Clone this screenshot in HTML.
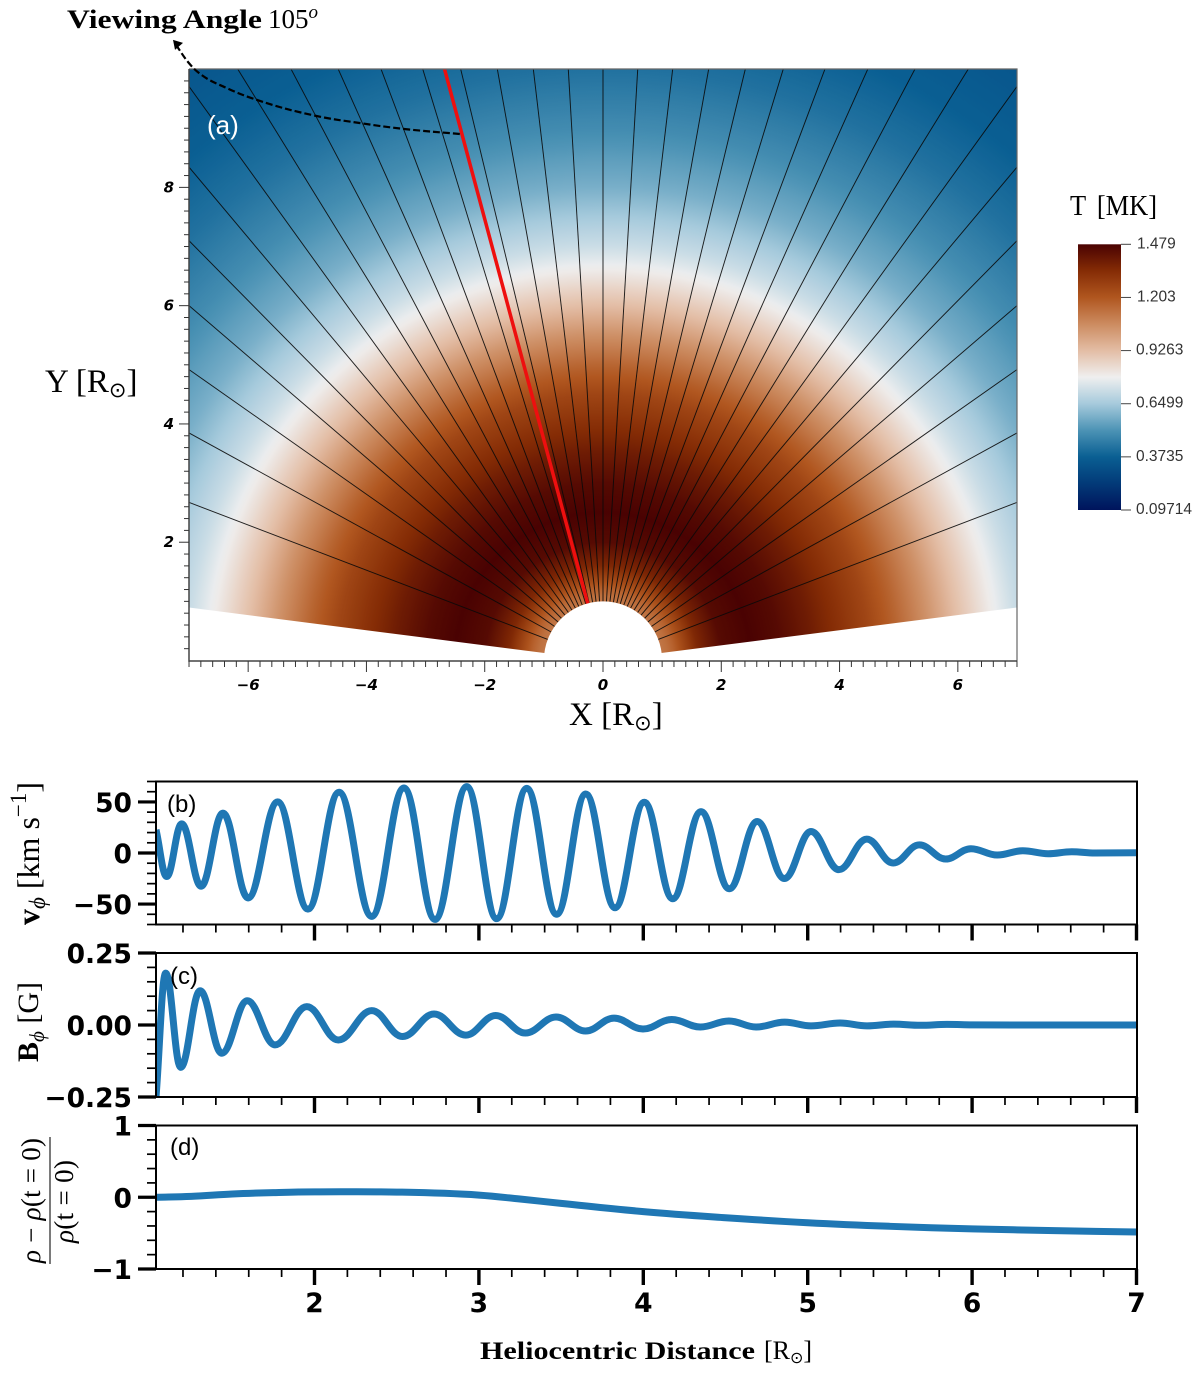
<!DOCTYPE html>
<html lang="en">
<head>
<meta charset="utf-8">
<title>Temperature map and wave profiles</title>
<style>
html,body{margin:0;padding:0;background:#fff;}
svg{display:block;}
.serif{font-family:"Liberation Serif","DejaVu Serif",serif;}
.sans{font-family:"Liberation Sans",sans-serif;}
.dj{font-family:"DejaVu Sans",sans-serif;}
</style>
</head>
<body>
<svg id="fig" xmlns="http://www.w3.org/2000/svg" width="1200" height="1387" viewBox="0 0 1200 1387">
  <defs>
    <radialGradient id="tempGrad" gradientUnits="userSpaceOnUse"></radialGradient>
    <linearGradient id="cbarGrad" x1="0" y1="1" x2="0" y2="0"></linearGradient>
    <clipPath id="mapClip"><rect x="189" y="69" width="828" height="592"/></clipPath>
    <clipPath id="clipB"><rect x="156" y="781.5" width="981" height="143"/></clipPath>
    <clipPath id="clipC"><rect x="156" y="953" width="981" height="144"/></clipPath>
    <clipPath id="clipD"><rect x="156" y="1125" width="981" height="144"/></clipPath>
  </defs>

  <g id="mapLayer" clip-path="url(#mapClip)"></g>
  <g id="mapFrame"></g>
  <g id="annot"></g>

  <text class="serif" x="67" y="28" font-size="26" font-weight="bold" textLength="195" lengthAdjust="spacingAndGlyphs">Viewing Angle</text>
  <text class="serif" x="268" y="28" font-size="27">105<tspan font-style="italic" font-size="19" dy="-10">o</tspan></text>
  <text class="sans" x="207" y="134" font-size="26" fill="#fff">(a)</text>
  <text class="serif" x="569" y="725" font-size="33">X [R<tspan class="dj" font-size="21" dy="5">⊙</tspan><tspan dy="-5">]</tspan></text>
  <text class="serif" x="45" y="392" font-size="33">Y [R<tspan class="dj" font-size="21" dy="5">⊙</tspan><tspan dy="-5">]</tspan></text>

  <text class="serif" x="1070" y="215" font-size="29" word-spacing="5" textLength="87" lengthAdjust="spacingAndGlyphs">T [MK]</text>
  <g id="cbar"></g>

  <g id="panelB"></g>
  <g id="panelC"></g>
  <g id="panelD"></g>

  <text class="sans" x="167" y="812" font-size="24">(b)</text>
  <text class="sans" x="170" y="984" font-size="24">(c)</text>
  <text class="sans" x="170" y="1155" font-size="24">(d)</text>

  <text class="serif" transform="translate(39,925) rotate(-90)" font-size="32"><tspan font-weight="bold">v</tspan><tspan font-style="italic" font-size="23" dy="6">ϕ</tspan><tspan dy="-6"> [km s</tspan><tspan font-size="23" dy="-13">−1</tspan><tspan dy="13">]</tspan></text>
  <text class="serif" transform="translate(38,1062) rotate(-90)" font-size="30"><tspan font-weight="bold">B</tspan><tspan font-style="italic" font-size="21" dy="6">ϕ</tspan><tspan dy="-6"> [G]</tspan></text>
  <g class="serif">
    <text transform="translate(40,1263) rotate(-90)" font-size="27" textLength="125"><tspan font-style="italic">ρ</tspan> − <tspan font-style="italic">ρ</tspan>(t = 0)</text>
    <line x1="50" y1="1137" x2="50" y2="1264" stroke="#222" stroke-width="1.2"/>
    <text transform="translate(73,1243) rotate(-90)" font-size="27" textLength="83"><tspan font-style="italic">ρ</tspan>(t = 0)</text>
  </g>

  <text class="serif" x="480" y="1359" font-size="25" font-weight="bold" textLength="275" lengthAdjust="spacingAndGlyphs">Heliocentric Distance</text>
  <text class="serif" x="764" y="1359" font-size="26">[R<tspan class="dj" font-size="16" dy="4">⊙</tspan><tspan dy="-4">]</tspan></text>
</svg>

<script>
// ---- Temperature map data ----
var mapXTicks = [-6,-4,-2,0,2,4,6];
var mapYTicks = [2,4,6,8];
var radialR = [1,1.15,1.3,1.6,2,2.5,3,3.5,4,4.5,5,5.5,6,6.65,7,8,9,10,11,12.5];
var radialT = [0.74,0.76,0.81,0.91,0.98,1,0.98,0.94,0.89,0.84,0.77,0.69,0.6,0.5,0.45,0.35,0.285,0.235,0.2,0.17];
var fieldLineAngles = [0,3.36,6.72,10.13,13.53,16.95,20.57,24.12,27.81,31.7,35.8,40,44.6,49.4,54.9,61.2,69.1];
var viewingLineAngle = [15];
var wedgeSlope = [0.128];
var arrowX = [-7.22,-7.017,-6.814,-6.363,-5.856,-4.904,-4.058,-3.382,-2.389];
var arrowY = [10.41,10.12,9.92,9.68,9.48,9.22,9.08,8.99,8.90];

// ---- Colour bar data ----
var cmapPos = [0,0.1,0.2,0.3,0.4,0.5,0.6,0.7,0.8,0.9,1];
var cmapHex = ['#00145c','#023a78','#0a5f93','#4c93b5','#a6cadc','#efefef','#e3bda5','#cc8b60','#b0561f','#852c05','#4a0202'];
var cbarLabels = ['0.09714','0.3735','0.6499','0.9263','1.203','1.479'];
var cbarFractions = [0,0.2,0.4,0.6,0.8,1];

// ---- Line panels data ----
var distXMajor = [2,3,4,5,6,7];
var velocityX = [1.036,1.101,1.192,1.310,1.443,1.596,1.776,1.960,2.149,2.348,2.544,2.733,2.926,3.108,3.291,3.473,3.650,3.828,4.006,4.179,4.351,4.523,4.693,4.858,5.020,5.190,5.359,5.520,5.679,5.839,5.993,6.153,6.308,6.462,6.606,6.747,7.0];
var velocityY = [22.7,-23,28.5,-32.5,39,-44,50,-55,59.5,-62,63.6,-65,65,-64.3,63.3,-60,57.8,-53.6,49.7,-44.8,40.5,-35,30.8,-25,21,-16.3,13.6,-9.8,8,-5.9,4.2,-2,2.2,-0.7,1.2,0,0.2];
var fieldX = [1.036,1.095,1.186,1.304,1.436,1.591,1.760,1.953,2.145,2.348,2.536,2.727,2.920,3.102,3.283,3.469,3.649,3.822,3.998,4.173,4.347,4.521,4.686,4.860,5.020,5.197,5.361,5.523,5.686,5.847,6.0,6.5,7.0];
var fieldY = [-0.25,0.18,-0.147,0.119,-0.098,0.084,-0.069,0.064,-0.052,0.05,-0.04,0.038,-0.035,0.033,-0.028,0.028,-0.021,0.024,-0.014,0.019,-0.007,0.014,-0.007,0.01,-0.003,0.007,-0.003,0.003,-0.001,0.002,0.0005,0,0];
var densityX = [1.036,1.25,1.5,1.75,2,2.5,3,3.25,3.5,4,4.5,5,5.5,6,6.5,7];
var densityY = [0,0.012,0.045,0.065,0.075,0.072,0.03,-0.025,-0.085,-0.2,-0.285,-0.355,-0.405,-0.44,-0.465,-0.485];
var velTicks = [-50,0,50];
var velTickLabels = ['−50','0','50'];
var fieldTicks = [-0.25,0,0.25];
var fieldTickLabels = ['−0.25','0.00','0.25'];
var densTicks = [-1,0,1];
var densTickLabels = ['−1','0','1'];

// ---- Helpers ----
var NS = 'http://www.w3.org/2000/svg';
function mk(tag, attrs, parent){
  var el = document.createElementNS(NS, tag);
  for (var k in attrs) el.setAttribute(k, attrs[k]);
  parent.appendChild(el);
  return el;
}
function mapX(v){ return 603 + v * 59.14; }
function mapY(v){ return 660.5 - v * 59.14; }
function hexToRgb(h){ return [parseInt(h.substr(1,2),16),parseInt(h.substr(3,2),16),parseInt(h.substr(5,2),16)]; }
function cmap(t){
  t = Math.max(0, Math.min(1, t));
  for (var i = 0; i < cmapPos.length - 1; i++){
    if (t <= cmapPos[i+1]){
      var f = (t - cmapPos[i]) / (cmapPos[i+1] - cmapPos[i]);
      var a = hexToRgb(cmapHex[i]), b = hexToRgb(cmapHex[i+1]);
      return 'rgb(' + Math.round(a[0]+(b[0]-a[0])*f) + ',' + Math.round(a[1]+(b[1]-a[1])*f) + ',' + Math.round(a[2]+(b[2]-a[2])*f) + ')';
    }
  }
  return cmapHex[cmapHex.length-1];
}
function monoPath(px, py){
  var n = px.length, d = [], m = [], i;
  for (i = 0; i < n-1; i++) d.push((py[i+1]-py[i]) / (px[i+1]-px[i]));
  m[0] = d[0]; m[n-1] = d[n-2];
  for (i = 1; i < n-1; i++){
    if (d[i-1]*d[i] <= 0) m[i] = 0;
    else m[i] = (d[i-1]+d[i])/2;
  }
  var s = 'M' + px[0].toFixed(2) + ' ' + py[0].toFixed(2);
  for (i = 0; i < n-1; i++){
    var h = (px[i+1]-px[i]) * 0.39;
    s += 'C' + (px[i]+h).toFixed(2) + ' ' + (py[i]+m[i]*h).toFixed(2) + ' ' + (px[i+1]-h).toFixed(2) + ' ' + (py[i+1]-m[i+1]*h).toFixed(2) + ' ' + px[i+1].toFixed(2) + ' ' + py[i+1].toFixed(2);
  }
  return s;
}

// ---- Temperature map ----
(function(){
  var grad = document.getElementById('tempGrad');
  var Rmax = radialR[radialR.length-1];
  grad.setAttribute('cx', mapX(0));
  grad.setAttribute('cy', mapY(0));
  grad.setAttribute('r', Rmax * 59.14);
  function profile(r){
    for (var i = 0; i < radialR.length-1; i++){
      if (r <= radialR[i+1]){
        return radialT[i] + (radialT[i+1]-radialT[i]) * (r-radialR[i]) / (radialR[i+1]-radialR[i]);
      }
    }
    return radialT[radialT.length-1];
  }
  for (var r = 0; r <= Rmax + 0.001; r += 0.1){
    var st = mk('stop', {offset: (r/Rmax).toFixed(4), 'stop-color': cmap(profile(Math.max(r,1)))}, grad);
    
    
  }
  var layer = document.getElementById('mapLayer');
  var s = wedgeSlope[0];
  var pts = [[0,0],[-7,7*s],[-7,10.2],[7,10.2],[7,7*s]];
  var wedge = mk('polygon', {points: pts.map(function(p){return mapX(p[0])+','+mapY(p[1]);}).join(' '), fill: 'url(#tempGrad)'}, layer);
  
  

  function radial(angle){
    var a = angle * Math.PI / 180;
    return {x1: mapX(Math.sin(a)), y1: mapY(Math.cos(a)), x2: mapX(14*Math.sin(a)), y2: mapY(14*Math.cos(a))};
  }
  fieldLineAngles.forEach(function(ang){
    (ang === 0 ? [1] : [1,-1]).forEach(function(sign){
      var c = radial(sign*ang);
      var l = mk('line', {x1:c.x1, y1:c.y1, x2:c.x2, y2:c.y2, stroke:'#0a0a0a', 'stroke-width':0.95, 'stroke-opacity':0.9}, layer);
      
      
    });
  });
  var sun = mk('circle', {cx: mapX(0), cy: mapY(0), r: 59.14, fill: '#fff'}, layer);
  
  
  var c = radial(-viewingLineAngle[0]);
  var red = mk('line', {x1:c.x1, y1:c.y1, x2:c.x2, y2:c.y2, stroke:'#ee0f0f', 'stroke-width':3.5}, layer);
  
  

  // axes frame and ticks
  var frame = document.getElementById('mapFrame');
  var border = mk('path', {d:'M189 69H1017V661', fill:'none', stroke:'#666', 'stroke-width':1.2}, frame);
  
  
  var border2 = mk('path', {d:'M189 69V661H1017', fill:'none', stroke:'#444', 'stroke-width':1.5}, frame);
  
  
  var v, i, t;
  for (i = -35; i <= 35; i++){
    v = i * 0.2;
    var isMaj = i % 10 === 0;
    t = mk('line', {x1:mapX(v), x2:mapX(v), y1:661, y2:661 + (isMaj ? 11 : 6), stroke:'#333', 'stroke-width':1}, frame);
    
    
  }
  for (i = 1; i <= 49; i++){
    v = i * 0.2;
    var isMajY = i % 10 === 0;
    t = mk('line', {x1:189 - (isMajY ? 10 : 5), x2:189, y1:mapY(v), y2:mapY(v), stroke:'#333', 'stroke-width':1}, frame);
    
    
  }
  mapXTicks.forEach(function(val){
    var tx = mk('text', {x:mapX(val), y:690, 'text-anchor':'middle', 'font-size':15, 'font-weight':'bold', 'font-style':'italic', 'class':'dj'}, frame);
    
    
    tx.textContent = (val < 0 ? '−' : '') + Math.abs(val);
  });
  mapYTicks.forEach(function(val){
    var tx = mk('text', {x:174, y:mapY(val)+5, 'text-anchor':'end', 'font-size':15, 'font-weight':'bold', 'font-style':'italic', 'class':'dj'}, frame);
    
    
    tx.textContent = String(val);
  });

  // viewing-angle arrow
  var ann = document.getElementById('annot');
  var ax = arrowX.map(mapX), ay = arrowY.map(mapY);
  var curve = mk('path', {d: monoPath(ax, ay), fill:'none', stroke:'#000', 'stroke-width':2.2, 'stroke-dasharray':'7 3'}, ann);
  
  
  var tip = [ax[0]-3, ay[0]-5];
  var head = mk('polygon', {points: tip[0]+','+tip[1]+' '+(tip[0]+10)+','+(tip[1]+3)+' '+(tip[0]+2)+','+(tip[1]+10), fill:'#000'}, ann);
  
  
})();

// ---- Colour bar ----
(function(){
  var g = document.getElementById('cbarGrad');
  for (var i = 0; i < cmapPos.length; i++){
    var st = mk('stop', {offset: cmapPos[i], 'stop-color': cmapHex[i]}, g);
    
    
  }
  var bar = document.getElementById('cbar');
  var top = 244.3, bot = 510;
  var rect = mk('rect', {x:1078, y:top, width:43, height:bot-top, fill:'url(#cbarGrad)'}, bar);
  
  
  cbarFractions.forEach(function(f, idx){
    var y = bot - f*(bot-top);
    var t = mk('line', {x1:1121, x2:1131, y1:y, y2:y, stroke:'#444', 'stroke-width':1}, bar);
    
    
    var lab = cbarLabels[idx];
    var tx = mk('text', {x: lab.length === 5 ? 1137 : 1136, y: y+4, 'font-size':15.5, fill:'#333', 'class':'sans'}, bar);
    
    
    tx.textContent = lab;
  });
})();

// ---- Line panels ----
function distX(v){ return 314.5 + (v - 2) * 164.4; }
function drawPanel(id, clipId, top, bot, yMax, tickVals, tickLabels, minorStep, xs, ys, showXLabels){
  var g = document.getElementById(id);
  var mid = (top + bot) / 2;
  var yS = function(v){ return mid - v * (bot - top) / (2 * yMax); };
  var i;
  var path = mk('path', {d: monoPath(xs.map(distX), ys.map(yS)), fill:'none', stroke:'#1f77b4', 'stroke-width':7, 'stroke-linejoin':'round', 'clip-path':'url(#'+clipId+')'}, g);
  
  
  var box = mk('rect', {x:156, y:top, width:981, height:bot-top, fill:'none', stroke:'#000', 'stroke-width':2}, g);
  
  
  var nMinor = Math.round(2 * yMax / minorStep);
  for (i = 0; i <= nMinor; i++){
    var v = -yMax + i * minorStep;
    var mn = mk('line', {x1:147, x2:156, y1:yS(v), y2:yS(v), stroke:'#000', 'stroke-width':1.7}, g);
    
    
  }
  tickVals.forEach(function(val, idx){
    var mj = mk('line', {x1:138, x2:156, y1:yS(val), y2:yS(val), stroke:'#000', 'stroke-width':3.2}, g);
    
    
    var tx = mk('text', {x:132, y:yS(val)+10, 'text-anchor':'end', 'font-size':26.5, 'font-weight':'bold', 'class':'dj'}, g);
    
    
    tx.textContent = tickLabels[idx];
  });
  for (i = 6; i <= 35; i++){
    if (i % 5 === 0) continue;
    var xv = i * 0.2;
    var mx = mk('line', {x1:distX(xv), x2:distX(xv), y1:bot, y2:bot+8, stroke:'#000', 'stroke-width':1.7}, g);
    
    
  }
  distXMajor.forEach(function(val){
    var mj = mk('line', {x1:distX(val), x2:distX(val), y1:bot, y2:bot+16, stroke:'#000', 'stroke-width':3.4}, g);
    
    
    if (showXLabels){
      var tx = mk('text', {x:distX(val), y:bot+43, 'text-anchor':'middle', 'font-size':26.5, 'font-weight':'bold', 'class':'dj'}, g);
      
      
      tx.textContent = String(val);
    }
  });
}
drawPanel('panelB', 'clipB', 781.5, 924.5, 70, velTicks, velTickLabels, 10, velocityX, velocityY, false);
drawPanel('panelC', 'clipC', 953, 1097, 0.25, fieldTicks, fieldTickLabels, 0.05, fieldX, fieldY, false);
drawPanel('panelD', 'clipD', 1125.5, 1269, 1, densTicks, densTickLabels, 0.2, densityX, densityY, true);
</script>
</body>
</html>
